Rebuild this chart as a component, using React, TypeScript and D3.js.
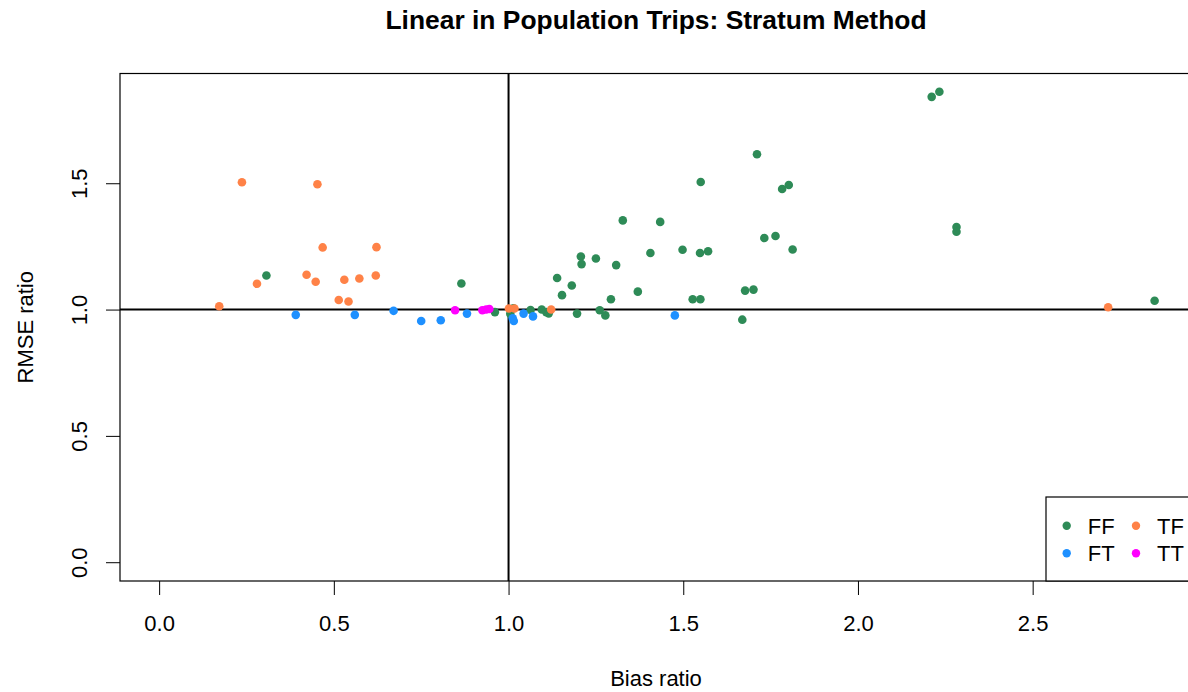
import React, { useEffect, useRef } from 'react';
import * as d3 from 'd3';

// bias ratio / RMSE ratio, one pair of arrays per group
const ffBias = [0.307, 0.865, 0.961, 1.005, 1.014, 1.063, 1.095, 1.108, 1.115, 1.139, 1.153, 1.181, 1.196, 1.207, 1.209, 1.25, 1.261, 1.277, 1.293, 1.308, 1.327, 1.37, 1.406, 1.434, 1.498, 1.527, 1.549, 1.548, 1.55, 1.571, 1.669, 1.677, 1.701, 1.711, 1.732, 1.764, 1.783, 1.802, 1.813, 2.211, 2.233, 2.282, 2.282, 2.849];
const ffRmse = [1.135, 1.103, 0.99, 0.983, 1.005, 0.998, 1.0, 0.99, 0.985, 1.125, 1.057, 1.095, 0.984, 1.21, 1.18, 1.202, 0.997, 0.977, 1.041, 1.176, 1.353, 1.071, 1.224, 1.347, 1.237, 1.041, 1.041, 1.224, 1.505, 1.231, 0.96, 1.075, 1.079, 1.615, 1.283, 1.291, 1.477, 1.493, 1.238, 1.842, 1.862, 1.327, 1.308, 1.035];

const ftBias = [0.391, 0.56, 0.671, 0.75, 0.806, 0.881, 1.012, 1.015, 1.043, 1.07, 1.476];
const ftRmse = [0.979, 0.979, 0.995, 0.955, 0.958, 0.984, 0.965, 0.955, 0.984, 0.973, 0.977];

const tfBias = [0.172, 0.237, 0.28, 0.422, 0.448, 0.453, 0.468, 0.514, 0.53, 0.542, 0.573, 0.62, 0.622, 1.001, 1.017, 1.122, 2.716];
const tfRmse = [1.013, 1.504, 1.102, 1.138, 1.11, 1.496, 1.246, 1.038, 1.118, 1.032, 1.123, 1.135, 1.247, 1.004, 1.004, 1.0, 1.009];

const ttBias = [0.847, 0.925, 0.936, 0.945];
const ttRmse = [0.997, 0.997, 1.0, 1.002];

const groupNames = ['FF', 'FT', 'TF', 'TT'];
const groupColors = ['#2E8B57', '#1E90FF', '#FF8247', '#FF00FF'];

const xTicks = [0, 0.5, 1, 1.5, 2, 2.5];
const yTicks = [0, 0.5, 1, 1.5];

const FONT = '"Liberation Sans", Arial, Helvetica, sans-serif';

const App = () => {
  const ref = useRef<SVGSVGElement>(null);

  useEffect(() => {
    const svg = d3.select(ref.current);
    svg.selectAll('*').remove();

    const left = 120, right = 1192, top = 73.5, bottom = 581;
    const x = d3.scaleLinear().domain([-0.112, 2.956]).range([left, right]);
    const y = d3.scaleLinear().domain([-0.0744, 1.9344]).range([bottom, top]);

    const g = svg.append('g').style('font-family', FONT);

    // title
    g.append('text')
      .attr('x', (left + right) / 2)
      .attr('y', 28.5)
      .attr('text-anchor', 'middle')
      .style('font-size', '26.4px')
      .style('font-weight', 'bold')
      .text('Linear in Population Trips: Stratum Method');

    // axes
    const xAxis = g.append('g')
      .attr('transform', `translate(0,${bottom})`)
      .call(d3.axisBottom(x).tickValues(xTicks).tickFormat(d3.format('.1f')).tickSize(14).tickPadding(20));
    xAxis.select('.domain').remove();
    xAxis.selectAll('line').attr('stroke', '#000');
    xAxis.selectAll('text').attr('fill', '#000').style('font-size', '22px').style('font-family', FONT);

    const yAxis = g.append('g')
      .attr('transform', `translate(${left},0)`)
      .call(d3.axisLeft(y).tickValues(yTicks).tickFormat(d3.format('.1f')).tickSize(14));
    yAxis.select('.domain').remove();
    yAxis.selectAll('line').attr('stroke', '#000');
    yAxis.selectAll('text')
      .attr('fill', '#000')
      .attr('transform', 'rotate(-90)')
      .attr('x', 0)
      .attr('y', -33)
      .attr('dy', 0)
      .attr('text-anchor', 'middle')
      .style('font-size', '22px')
      .style('font-family', FONT);

    // axis titles
    g.append('text')
      .attr('x', (left + right) / 2)
      .attr('y', 686)
      .attr('text-anchor', 'middle')
      .style('font-size', '22px')
      .text('Bias ratio');

    g.append('text')
      .attr('transform', `translate(33,${(top + bottom) / 2}) rotate(-90)`)
      .attr('text-anchor', 'middle')
      .style('font-size', '22px')
      .text('RMSE ratio');

    // frame
    g.append('rect')
      .attr('x', left)
      .attr('y', top)
      .attr('width', right - left)
      .attr('height', bottom - top)
      .attr('fill', 'none')
      .attr('stroke', '#000')
      .attr('stroke-width', 1.2);

    // reference lines at 1
    g.append('line')
      .attr('x1', x(1)).attr('x2', x(1))
      .attr('y1', top).attr('y2', bottom)
      .attr('stroke', '#000').attr('stroke-width', 2);
    g.append('line')
      .attr('x1', left).attr('x2', right)
      .attr('y1', y(1)).attr('y2', y(1))
      .attr('stroke', '#000').attr('stroke-width', 2);

    // points
    const groups = [
      [ffBias, ffRmse],
      [ftBias, ftRmse],
      [tfBias, tfRmse],
      [ttBias, ttRmse],
    ];
    groups.forEach(([bx, ry], i) => {
      g.append('g')
        .selectAll('circle')
        .data(d3.range(bx.length))
        .enter().append('circle')
        .attr('cx', j => x(bx[j]))
        .attr('cy', j => y(ry[j]))
        .attr('r', 4.3)
        .attr('fill', groupColors[i]);
    });

    // legend
    const lg = g.append('g');
    lg.append('rect')
      .attr('x', 1046)
      .attr('y', 497)
      .attr('width', 200)
      .attr('height', bottom - 497)
      .attr('fill', '#fff')
      .attr('stroke', '#000')
      .attr('stroke-width', 1.2);
    const order = [0, 2, 1, 3];
    order.forEach((gi, k) => {
      const col = k % 2;
      const row = Math.floor(k / 2);
      const cx = 1066.7 + col * 69.3;
      const cy = 525.7 + row * 27.6;
      lg.append('circle').attr('cx', cx).attr('cy', cy).attr('r', 4.2).attr('fill', groupColors[gi]);
      lg.append('text')
        .attr('x', cx + 21)
        .attr('y', cy + 7.9)
        .style('font-size', '22px')
        .text(groupNames[gi]);
    });
  }, []);

  return (
    <svg
      ref={ref}
      width={1188}
      height={692}
      style={{ position: 'absolute', left: 0, top: 0, background: '#fff' }}
    />
  );
};

export default App;
